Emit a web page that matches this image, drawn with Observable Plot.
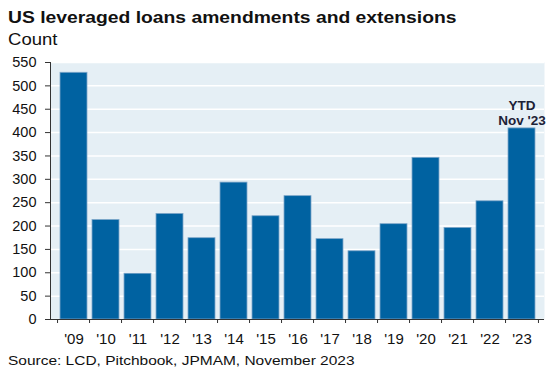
<!DOCTYPE html>
<html><head><meta charset="utf-8">
<script src="https://cdn.jsdelivr.net/npm/d3@7"></script>
<script src="https://cdn.jsdelivr.net/npm/@observablehq/plot@0.6"></script>
<style>
body{margin:0;background:#fff;font-family:"Liberation Sans",Arial,sans-serif;color:#111}
#wrap{position:relative;width:553px;height:370px;overflow:hidden}
.t{position:absolute;left:8px;white-space:nowrap;transform-origin:0 0;line-height:1}
#title{top:9px;font-size:16.5px;font-weight:bold;transform:scaleX(1.17)}
#sub{top:31px;font-size:17px;transform:scaleX(1.09)}
#cap{top:354px;font-size:13px;transform:scaleX(1.19)}
#chart{position:absolute;left:0;top:40px}
</style></head><body>
<div id="wrap">
<div class="t" id="title">US leveraged loans amendments and extensions</div>
<div class="t" id="sub">Count</div>
<div id="chart"></div>
<div class="t" id="cap">Source: LCD, Pitchbook, JPMAM, November 2023</div>
</div>
<script>
const years = ["'09","'10","'11","'12","'13","'14","'15","'16","'17","'18","'19","'20","'21","'22","'23"];
const counts = [528, 213, 98, 226, 174, 293, 221, 264, 172, 146, 204, 346, 196, 253, 409];
const yTicks = [0, 50, 100, 150, 200, 250, 300, 350, 400, 450, 500, 550];
const annotation = "YTD\nNov '23";

const data = years.map((y, i) => ({year: y, count: counts[i]}));
const W = 553, H = 310, ML = 50, MR = 9, MT = 22, MB = 31;
const step = (W - ML - MR) / years.length;

const plot = Plot.plot({
  width: W, height: H,
  marginLeft: ML, marginRight: MR, marginTop: MT, marginBottom: MB,
  style: {fontFamily: "Liberation Sans, Arial, sans-serif", fontSize: "14px", color: "#111", background: "transparent", overflow: "visible"},
  x: {domain: years, paddingInner: 0.17, paddingOuter: 0.085, label: null},
  y: {domain: [0, 550], label: null},
  marks: [
    Plot.frame({fill: "#e5eff5", stroke: null}),
    Plot.gridY(yTicks, {stroke: "#fff", strokeOpacity: 1, strokeWidth: 1.5}),
    Plot.barY(data, {x: "year", y: "count", fill: "#0062a1", stroke: "#7fa8ca", strokeWidth: 0.8}),
    Plot.axisY(yTicks, {tickSize: 5, tickPadding: 9, stroke: "#333", fill: "#111", fontSize: 14.5, label: null}),
    Plot.frame({anchor: "left", stroke: "#333"}),
    Plot.ruleY([0], {stroke: "#333"}),
    Plot.axisX(years, {text: null, tickSize: 4, dx: -step / 2, stroke: "#333", label: null}),
    Plot.axisX([years[years.length - 1]], {text: null, tickSize: 4, dx: step / 2, stroke: "#333", label: null}),
    Plot.axisX(years, {tickSize: 0, tickPadding: 14, fontSize: 15, fill: "#111", label: null}),
    Plot.text([data[data.length - 1]], {x: "year", y: "count", text: () => annotation, lineAnchor: "bottom", lineHeight: 1.12, dy: -3, fontWeight: "bold", fontSize: 13.5, fill: "#1c2136"})
  ]
});
document.getElementById("chart").appendChild(plot);
</script>
</body></html>
